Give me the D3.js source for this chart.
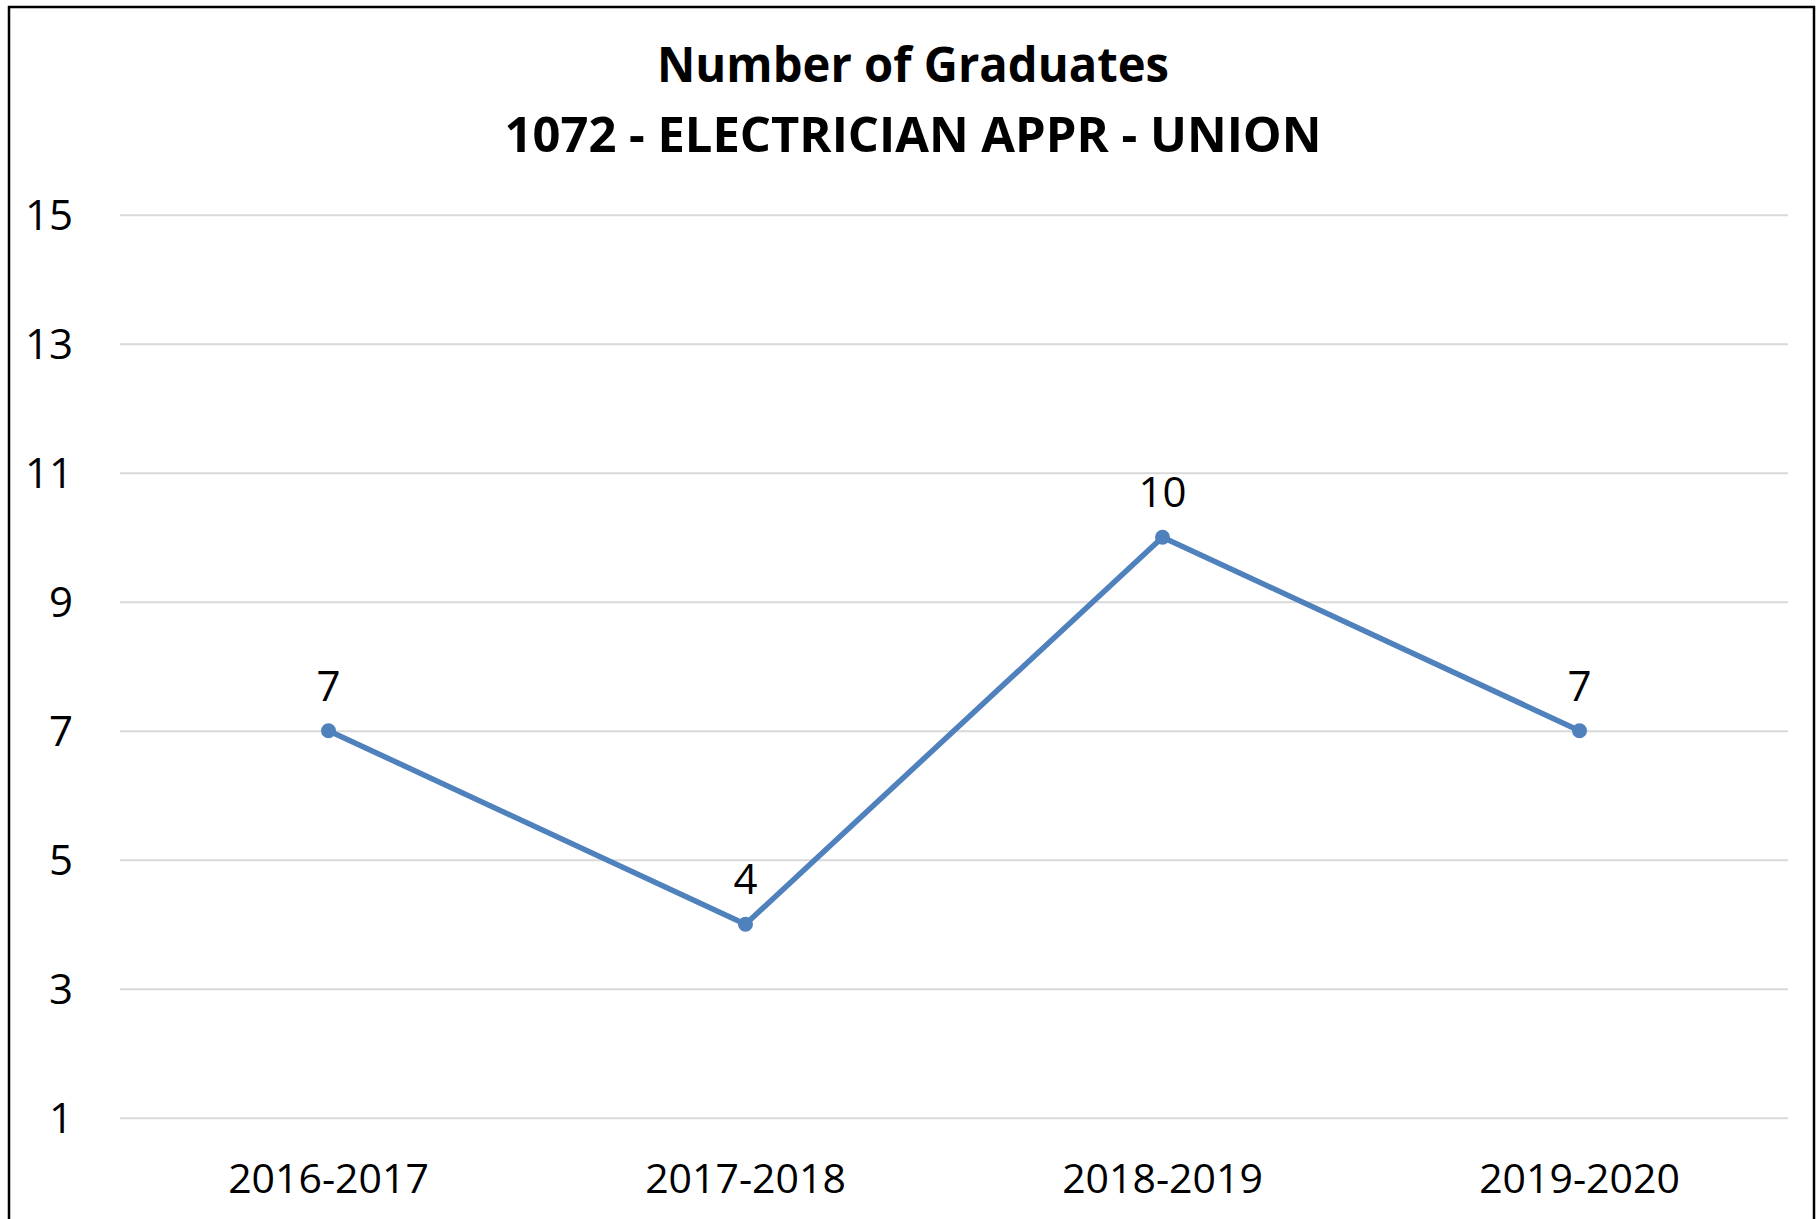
<!DOCTYPE html>
<html>
<head>
<meta charset="utf-8">
<script src="https://cdn.jsdelivr.net/npm/d3@7"></script>
<style>
  html, body { margin: 0; padding: 0; background: #ffffff; }
  svg { display: block; }
</style>
</head>
<body>
<svg id="chart" width="1818" height="1219"></svg>
<script>
// ---- data ----
const titleLines = ["Number of Graduates", "1072 - ELECTRICIAN APPR - UNION"];
const categories = ["2016-2017", "2017-2018", "2018-2019", "2019-2020"];
const graduates = [7, 4, 10, 7];
const yTicks = [1, 3, 5, 7, 9, 11, 13, 15];

// ---- layout ----
const W = 1818, H = 1219;
const plot = { left: 120, right: 1788, top: 214.7, bottom: 1117.7 };
const svg = d3.select("#chart");

// chart frame
svg.append("rect")
  .attr("x", 9).attr("y", 7)
  .attr("width", 1805).attr("height", 1240)
  .attr("fill", "#ffffff")
  .attr("stroke", "#000000").attr("stroke-width", 2.5);

const x = d3.scaleBand().domain(categories).range([plot.left, plot.right]).padding(0);
const y = d3.scaleLinear().domain([1, 15]).range([plot.bottom, plot.top]);
const cx = d => x(d) + x.bandwidth() / 2;

// gridlines
const grid = d3.axisLeft(y).tickValues(yTicks).tickSize(-(plot.right - plot.left)).tickFormat("");
const gG = svg.append("g").attr("transform", `translate(${plot.left},0)`).call(grid);
gG.select(".domain").remove();
gG.selectAll(".tick line").attr("stroke", "#d9d9d9").attr("stroke-width", 2);

// y labels
const yAxis = d3.axisLeft(y).tickValues(yTicks).tickSize(0).tickPadding(0).tickFormat(d3.format("d"));
const yG = svg.append("g").attr("transform", `translate(73,0)`).call(yAxis);
yG.select(".domain").remove();
yG.selectAll(".tick text")
  .attr("font-family", "'Open Sans', sans-serif").attr("font-size", 42)
  .attr("fill", "#000").attr("dy", "0.36em").attr("text-anchor", "end");

// x labels
const xAxis = d3.axisBottom(x).tickSize(0).tickPadding(0);
const xG = svg.append("g").attr("transform", `translate(0,1193)`).call(xAxis);
xG.select(".domain").remove();
xG.selectAll(".tick text")
  .attr("font-family", "'Open Sans', sans-serif").attr("font-size", 41)
  .attr("fill", "#000").attr("dy", 0).attr("y", 0);

// line
const pts = categories.map((c, i) => ({ c, v: graduates[i] }));
const line = d3.line().x(d => cx(d.c)).y(d => y(d.v));
svg.append("path").datum(pts)
  .attr("d", line).attr("fill", "none")
  .attr("stroke", "#4f81bd").attr("stroke-width", 5.5)
  .attr("stroke-linejoin", "round");

svg.selectAll("circle.m").data(pts).join("circle")
  .attr("class", "m")
  .attr("cx", d => cx(d.c)).attr("cy", d => y(d.v))
  .attr("r", 7.5).attr("fill", "#4f81bd");

// data labels
svg.selectAll("text.dl").data(pts).join("text")
  .attr("class", "dl")
  .attr("x", d => cx(d.c)).attr("y", d => y(d.v) - 30)
  .attr("text-anchor", "middle")
  .attr("font-family", "'Open Sans', sans-serif").attr("font-size", 42)
  .attr("fill", "#000")
  .text(d => d.v);

// title
const titleSpecs = [{ y: 82, w: 512 }, { y: 152, w: 817 }];
titleLines.forEach((t, i) => {
  const el = svg.append("text")
    .attr("x", 913).attr("y", titleSpecs[i].y)
    .attr("text-anchor", "middle")
    .attr("font-family", "'Open Sans', sans-serif")
    .attr("font-weight", "bold").attr("font-size", 48)
    .attr("fill", "#000")
    .text(t);
  const len = el.node().getComputedTextLength();
  if (Math.abs(len - titleSpecs[i].w) > 2) {
    el.attr("textLength", titleSpecs[i].w).attr("lengthAdjust", "spacingAndGlyphs");
  }
});
</script>
</body>
</html>
